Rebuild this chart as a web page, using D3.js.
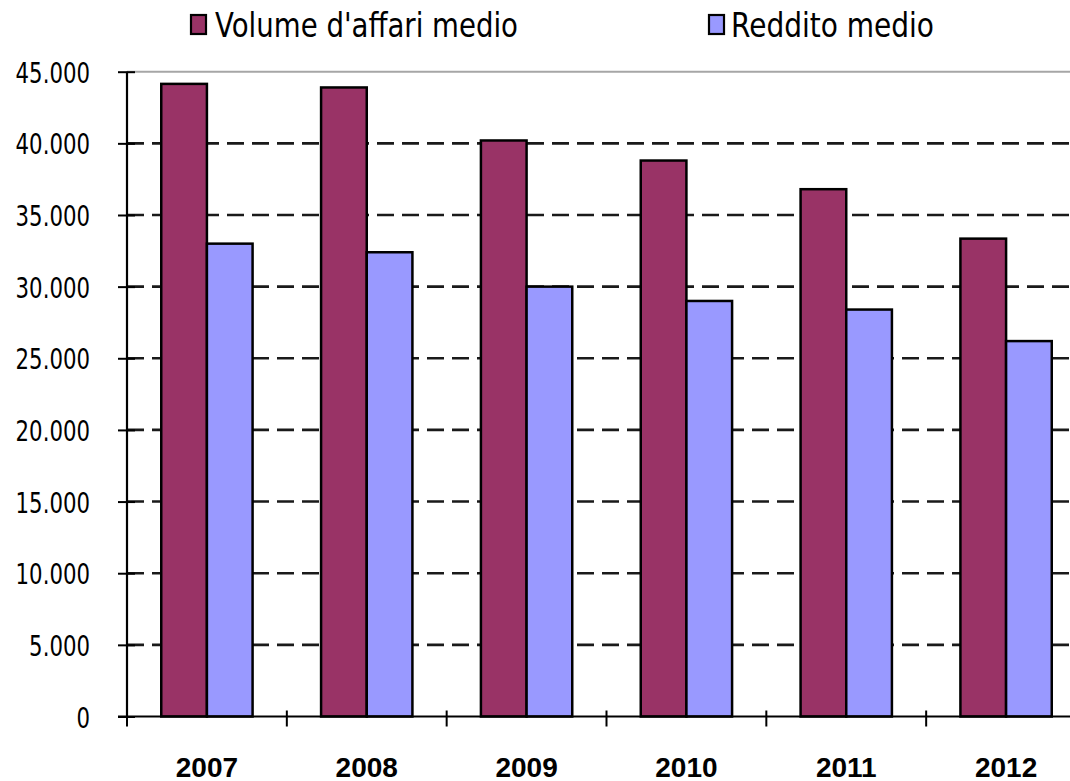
<!DOCTYPE html>
<html>
<head>
<meta charset="utf-8">
<script src="https://cdn.jsdelivr.net/npm/d3@7/dist/d3.min.js"></script>
<style>
  html, body { margin: 0; padding: 0; background: #fff; }
  svg { display: block; }
</style>
</head>
<body>
<svg id="chart" width="1070" height="781"></svg>
<script>
// Average turnover and income per year
const years = ["2007", "2008", "2009", "2010", "2011", "2012"];
const seriesNames = ["Volume d'affari medio", "Reddito medio"];
const volumeAffari = [44150, 43900, 40200, 38800, 36800, 33350];
const reddito = [33000, 32400, 30000, 29000, 28400, 26200];
const yTicks = [0, 5000, 10000, 15000, 20000, 25000, 30000, 35000, 40000, 45000];
const colors = ["#993366", "#9999FF"];

const svg = d3.select("#chart");
const plotLeft = 127, plotRight = 1086, plotTop = 71.7, plotBottom = 716.5;

const x0 = d3.scaleBand().domain(years).range([plotLeft, plotRight]).paddingInner(0).paddingOuter(0);
const x1 = d3.scaleBand().domain(seriesNames).range([0, x0.bandwidth()])
  .paddingInner(0).paddingOuter(0.75);
const y = d3.scaleLinear().domain([0, 45000]).range([plotBottom, plotTop]);

const fmt = v => d3.format(",")(v).replace(/,/g, ".");

// dashed gridlines
svg.append("g")
  .selectAll("line")
  .data(yTicks.filter(t => t > 0 && t < 45000))
  .join("line")
  .attr("x1", plotLeft).attr("x2", 1070)
  .attr("y1", d => y(d)).attr("y2", d => y(d))
  .attr("stroke", "#1a1a1a")
  .attr("stroke-width", 2.6)
  .attr("stroke-dasharray", "17,8");

// plot-area top border
svg.append("line")
  .attr("x1", plotLeft).attr("x2", 1070)
  .attr("y1", y(45000)).attr("y2", y(45000))
  .attr("stroke", "#a6a6a6").attr("stroke-width", 2);

// bars
const rows = years.map((yr, i) => ({ year: yr, values: [volumeAffari[i], reddito[i]] }));
const groups = svg.append("g").selectAll("g")
  .data(rows).join("g")
  .attr("transform", d => `translate(${x0(d.year)},0)`);
groups.selectAll("rect")
  .data(d => d.values.map((v, k) => ({ key: seriesNames[k], value: v, k })))
  .join("rect")
  .attr("x", d => x1(d.key))
  .attr("width", x1.bandwidth())
  .attr("y", d => y(d.value))
  .attr("height", d => y(0) - y(d.value))
  .attr("fill", d => colors[d.k])
  .attr("stroke", "#000")
  .attr("stroke-width", 2.5);

// y axis (labels squeezed horizontally for a narrow look)
const squeeze = 0.76;
const yAxis = d3.axisLeft(y).tickValues(yTicks).tickFormat(fmt).tickSize(0).tickPadding(0);
const gy = svg.append("g").attr("transform", `translate(${plotLeft},0)`).call(yAxis);
gy.select(".domain").remove();
gy.append("line").attr("x1", 0).attr("x2", 0).attr("y1", y(45000)).attr("y2", y(0))
  .attr("stroke", "#000").attr("stroke-width", 2.2);
gy.selectAll(".tick").append("line")
  .attr("x1", -9).attr("x2", 8).attr("stroke", "#000").attr("stroke-width", 2);
gy.selectAll(".tick text")
  .attr("x", -37 / squeeze)
  .attr("dy", "0.38em")
  .attr("transform", `scale(${squeeze},1)`)
  .attr("text-anchor", "end")
  .attr("fill", "#000")
  .style("font-family", "'DejaVu Sans', Verdana, sans-serif")
  .style("font-size", "28px");

// x axis
const gx = svg.append("g").attr("transform", `translate(0,${plotBottom})`);
gx.append("line").attr("x1", plotLeft - 9).attr("x2", 1070).attr("y1", 0).attr("y2", 0)
  .attr("stroke", "#000").attr("stroke-width", 2.2);
gx.selectAll("line.tk")
  .data(years.map(yr => x0(yr)).concat([plotRight]))
  .join("line").attr("class", "tk")
  .attr("x1", d => d).attr("x2", d => d)
  .attr("y1", -6).attr("y2", 10)
  .attr("stroke", "#000").attr("stroke-width", 2);
gx.selectAll("text")
  .data(years).join("text")
  .attr("x", d => x0(d) + x0.bandwidth() / 2)
  .attr("y", 60)
  .attr("text-anchor", "middle")
  .attr("fill", "#000")
  .style("font-family", "'Liberation Sans', Arial, sans-serif")
  .style("font-weight", "bold")
  .style("font-size", "28px")
  .text(d => d);

// legend
const legendPos = [{ rx: 191, tx: 215, w: 303 }, { rx: 709, tx: 731, w: 203 }];
const lg = svg.append("g").selectAll("g").data(seriesNames).join("g");
lg.append("rect")
  .attr("x", (d, i) => legendPos[i].rx).attr("y", 15)
  .attr("width", 15).attr("height", 19)
  .attr("fill", (d, i) => colors[i])
  .attr("stroke", "#000").attr("stroke-width", 2.2);
lg.append("text")
  .attr("x", (d, i) => legendPos[i].tx).attr("y", 37)
  .attr("textLength", (d, i) => legendPos[i].w)
  .attr("lengthAdjust", "spacingAndGlyphs")
  .attr("fill", "#000")
  .style("font-family", "'DejaVu Sans', Verdana, sans-serif")
  .style("font-size", "34px")
  .text(d => d);
</script>
</body>
</html>
